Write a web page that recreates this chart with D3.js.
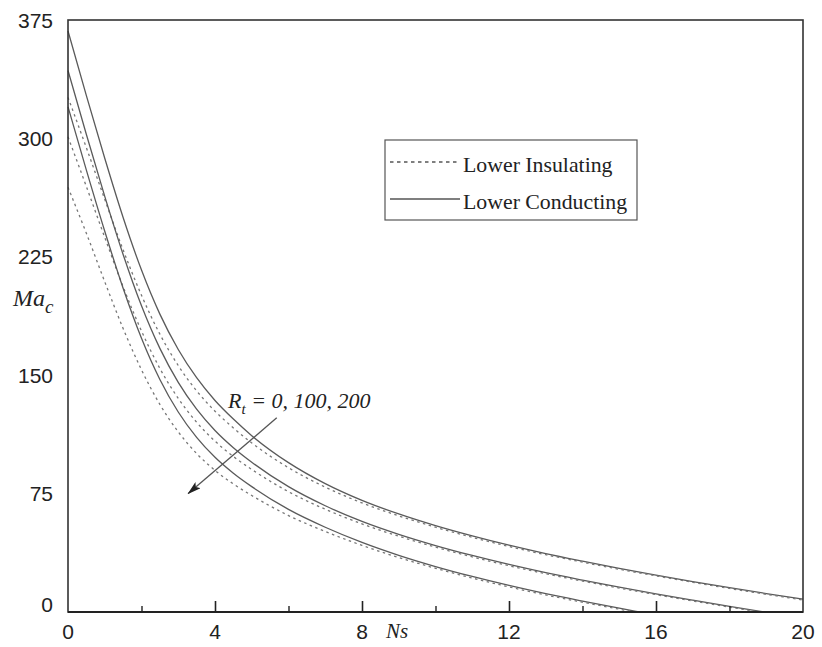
<!DOCTYPE html>
<html>
<head>
<meta charset="utf-8">
<script src="https://cdn.jsdelivr.net/npm/d3@7/dist/d3.min.js"></script>
<style>
  html, body { margin: 0; padding: 0; background: #fff; }
  svg { display: block; }
</style>
</head>
<body>
<svg id="chart" width="822" height="647"></svg>
<script>
// ---- data ----
const xTicks = [0, 4, 8, 12, 16, 20];
const xMinorTicks = [2, 6, 10, 14, 18];
const yTicks = [0, 75, 150, 225, 300, 375];

// Rt = 0 (top pair)
const ns1 = [0,0.5,1,1.5,2,2.5,3,3.5,4,4.5,5,6,7,8,9,10,11,12,13,14,15,16,17,18,19,20];
const cond1 = [368,327.1,287.4,249.9,216.6,188.7,166.3,148.4,134,122.2,111.7,94.6,81.3,70.7,62.1,54.7,48.2,42.3,37,32.2,27.6,23.4,19.3,15.4,11.7,8.1];
const insu1 = [326,294.1,261.4,229.4,200.6,176,156.1,140.1,127.2,116.6,107.1,91.4,79.1,69.1,60.9,53.7,47.3,41.5,36.3,31.6,27.05,22.9,18.8,14.9,11.2,7.6];

// Rt = 100 (middle pair)
const ns2c = [0,0.5,1,1.5,2,2.5,3,3.5,4,4.5,5,6,7,8,9,10,11,12,13,14,15,16,17,18,18.95];
const cond2 = [343,302.5,263.3,226.5,194,167,145.5,128.5,115,104.1,94.9,79.4,67.3,57.4,49.2,42.1,35.8,30.1,24.9,20.2,15.7,11.5,7.5,3.6,0];
const ns2i = [0,0.5,1,1.5,2,2.5,3,3.5,4,4.5,5,6,7,8,9,10,11,12,13,14,15,16,17,18,18.82];
const insu2 = [301,269.5,237.3,206,178,154.3,135.3,120.2,108.2,98.5,90.3,76.2,65.1,55.8,48,41.1,34.9,29.3,24.2,19.6,15.15,11,7,3.1,0];

// Rt = 200 (bottom pair)
const ns3c = [0,0.5,1,1.5,2,2.5,3,3.5,4,4.5,5,6,7,8,9,10,11,12,13,14,15,15.55];
const cond3 = [320,279.9,241.2,205.1,173.4,147.3,126.7,110.6,98,87.9,79.4,65,53.7,44.1,35.9,28.8,22.5,16.8,11.6,6.9,2.4,0];
const ns3i = [0,0.5,1,1.5,2,2.5,3,3.5,4,4.5,5,6,7,8,9,10,11,12,13,14,15,15.42];
const insu3 = [269,239.9,209.2,179.6,153.4,131.5,114.1,100.4,89.7,81.1,73.8,61.1,51,42.2,34.5,27.7,21.5,15.9,10.8,6.2,1.8,0];

const legendLabels = ["Lower Insulating", "Lower Conducting"];
const annotationArrow = { from: [5.68, 123], to: [3.27, 75] };

// ---- chart ----
const svg = d3.select("#chart");
const x = d3.scaleLinear().domain([0, 20]).range([68, 803]);
const y = d3.scaleLinear().domain([0, 375]).range([612, 20]);

const series = [
  { ns: ns1, v: cond1, dashed: false },
  { ns: ns1, v: insu1, dashed: true },
  { ns: ns2c, v: cond2, dashed: false },
  { ns: ns2i, v: insu2, dashed: true },
  { ns: ns3c, v: cond3, dashed: false },
  { ns: ns3i, v: insu3, dashed: true }
];

const line = d3.line()
  .x(d => x(d[0]))
  .y(d => y(d[1]))
  .curve(d3.curveMonotoneX);

svg.append("g").selectAll("path")
  .data(series)
  .join("path")
  .attr("d", s => line(s.ns.map((n, i) => [n, s.v[i]])))
  .attr("fill", "none")
  .attr("stroke", s => s.dashed ? "#777" : "#5a5a5a")
  .attr("stroke-width", 1.3)
  .attr("stroke-dasharray", s => s.dashed ? "2.5,3.5" : null);

// frame
svg.append("rect")
  .attr("x", x(0)).attr("y", y(375))
  .attr("width", x(20) - x(0)).attr("height", y(0) - y(375))
  .attr("fill", "none").attr("stroke", "#333").attr("stroke-width", 1.6);
svg.append("line")
  .attr("x1", x(0)).attr("x2", x(20)).attr("y1", y(0)).attr("y2", y(0))
  .attr("stroke", "#222").attr("stroke-width", 2.2);

// x ticks (inward)
const xAxis = d3.axisTop(x).tickValues(xTicks.slice(1, -1)).tickSize(11).tickFormat("");
const gx = svg.append("g").attr("transform", `translate(0,${y(0)})`).call(xAxis);
gx.select(".domain").remove();
gx.selectAll("line").attr("stroke", "#222").attr("stroke-width", 1.6);
const xAxisMinor = d3.axisTop(x).tickValues(xMinorTicks).tickSize(6).tickFormat("");
const gxm = svg.append("g").attr("transform", `translate(0,${y(0)})`).call(xAxisMinor);
gxm.select(".domain").remove();
gxm.selectAll("line").attr("stroke", "#222").attr("stroke-width", 1.4);

// x tick labels
svg.append("g").selectAll("text")
  .data(xTicks)
  .join("text")
  .attr("x", d => x(d))
  .attr("y", 639)
  .attr("text-anchor", "middle")
  .attr("font-family", "Liberation Sans, Arial, sans-serif")
  .attr("font-size", 21)
  .attr("fill", "#222")
  .text(d => d);

// y tick labels
svg.append("g").selectAll("text")
  .data(yTicks)
  .join("text")
  .attr("x", 53)
  .attr("y", d => y(d) + 7.5 - (d === 0 ? 8 : 0))
  .attr("text-anchor", "end")
  .attr("font-family", "Liberation Sans, Arial, sans-serif")
  .attr("font-size", 21)
  .attr("fill", "#222")
  .text(d => d);

// axis titles
const yl = svg.append("text")
  .attr("x", 13).attr("y", 306)
  .attr("font-family", "Liberation Serif, Times New Roman, serif")
  .attr("font-style", "italic")
  .attr("font-size", 24)
  .attr("fill", "#222");
yl.append("tspan").text("Ma");
yl.append("tspan").attr("dy", 7).attr("font-size", 19).text("c");

svg.append("text")
  .attr("x", 397).attr("y", 638)
  .attr("text-anchor", "middle")
  .attr("font-family", "Liberation Serif, Times New Roman, serif")
  .attr("font-style", "italic")
  .attr("font-size", 21)
  .attr("fill", "#222")
  .text("Ns");

// legend
const lg = svg.append("g");
lg.append("rect")
  .attr("x", 385).attr("y", 140).attr("width", 252).attr("height", 80)
  .attr("fill", "#fff").attr("stroke", "#555").attr("stroke-width", 1.2);
const legendRows = [
  { label: legendLabels[0], dashed: true, yy: 162 },
  { label: legendLabels[1], dashed: false, yy: 199 }
];
legendRows.forEach(r => {
  lg.append("line")
    .attr("x1", 390).attr("x2", 460).attr("y1", r.yy).attr("y2", r.yy)
    .attr("stroke", "#555")
    .attr("stroke-width", r.dashed ? 1.3 : 1.6)
    .attr("stroke-dasharray", r.dashed ? "3.5,3.5" : null);
  lg.append("text")
    .attr("x", 463).attr("y", r.yy + 10)
    .attr("font-family", "Liberation Serif, Times New Roman, serif")
    .attr("font-size", 21.8)
    .attr("fill", "#222")
    .text(r.label);
});

// annotation
svg.append("defs").append("marker")
  .attr("id", "arrowhead")
  .attr("viewBox", "0 0 14 8")
  .attr("refX", 13).attr("refY", 4)
  .attr("markerWidth", 14).attr("markerHeight", 8)
  .attr("markerUnits", "userSpaceOnUse")
  .attr("orient", "auto")
  .append("path").attr("d", "M0,0 L14,4 L0,8 L3,4 Z").attr("fill", "#222");

svg.append("line")
  .attr("x1", x(annotationArrow.from[0])).attr("y1", y(annotationArrow.from[1]))
  .attr("x2", x(annotationArrow.to[0])).attr("y2", y(annotationArrow.to[1]))
  .attr("stroke", "#555").attr("stroke-width", 1.3)
  .attr("marker-end", "url(#arrowhead)");

const at = svg.append("text")
  .attr("x", 228).attr("y", 408)
  .attr("font-family", "Liberation Serif, Times New Roman, serif")
  .attr("font-style", "italic")
  .attr("font-size", 22)
  .attr("fill", "#222");
at.append("tspan").text("R");
at.append("tspan").attr("dy", 6).attr("font-size", 15).text("t");
at.append("tspan").attr("dy", -6).text(" = 0, 100, 200");
</script>
</body>
</html>
